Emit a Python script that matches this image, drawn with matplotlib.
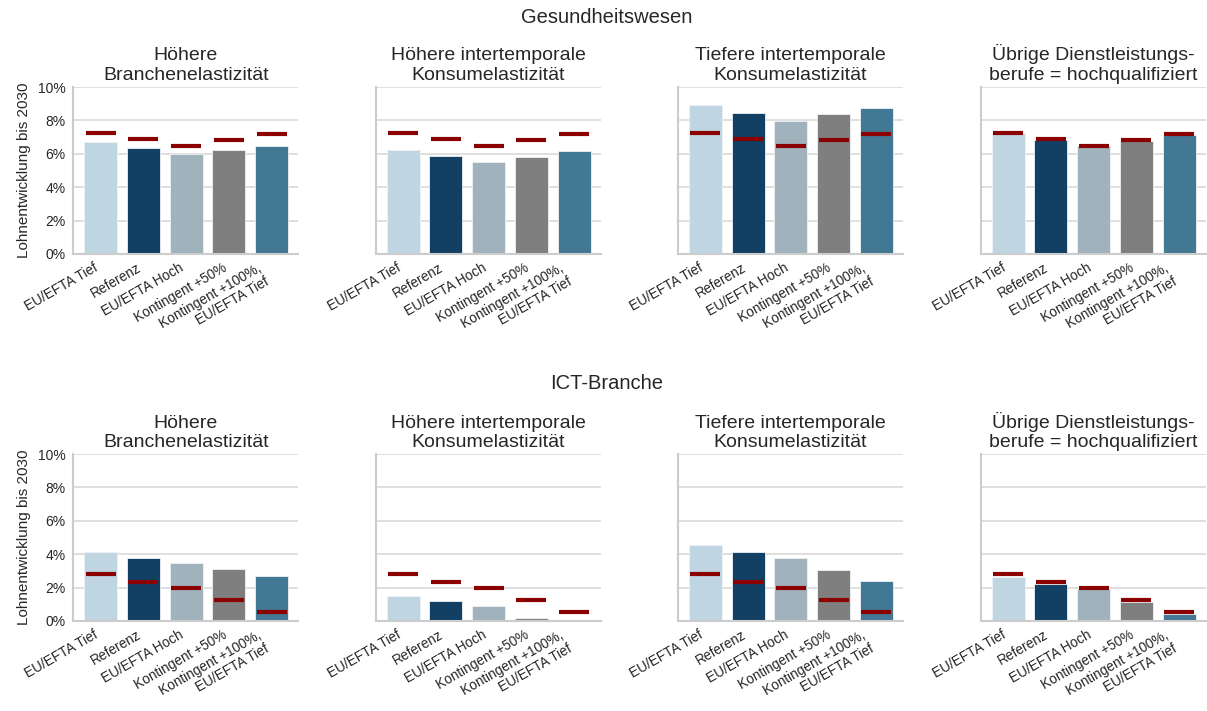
import numpy as np
import matplotlib.pyplot as plt
import seaborn as sns
from matplotlib.ticker import PercentFormatter

sns.set_style("whitegrid")
plt.rcParams["font.family"] = ["Liberation Sans", "DejaVu Sans"]

# Szenarien (x-Achse) und Farben der Balken
szenarien = ["EU/EFTA Tief", "Referenz", "EU/EFTA Hoch", "Kontingent +50%",
             "Kontingent +100%,\nEU/EFTA Tief"]
farben = ["#bfd5e2", "#124064", "#a0b3bd", "#7f7f7f", "#437895"]

sensitivitaeten = ["Höhere\nBranchenelastizität",
                   "Höhere intertemporale\nKonsumelastizität",
                   "Tiefere intertemporale\nKonsumelastizität",
                   "Übrige Dienstleistungs-\nberufe = hochqualifiziert"]

# Lohnentwicklung bis 2030 in %, Gesundheitswesen
gesundheit_basis = [7.26, 6.88, 6.48, 6.80, 7.18]
gesundheit = [
    [6.68, 6.34, 6.00, 6.22, 6.48],
    [6.24, 5.84, 5.48, 5.78, 6.16],
    [8.90, 8.44, 7.98, 8.36, 8.72],
    [7.24, 6.84, 6.44, 6.76, 7.10],
]

# Lohnentwicklung bis 2030 in %, ICT-Branche
ict_basis = [2.83, 2.32, 1.98, 1.26, 0.54]
ict = [
    [4.11, 3.77, 3.47, 3.09, 2.71],
    [1.50, 1.18, 0.90, 0.16, 0.00],
    [4.53, 4.11, 3.75, 3.04, 2.38],
    [2.62, 2.23, 1.90, 1.14, 0.42],
]

fig = plt.figure(figsize=(12.07, 7.11), dpi=100)

lefts = [0.0607, 0.3113, 0.5617, 0.8125]
breite = 0.1864
zeilen = [
    ("Gesundheitswesen", gesundheit, gesundheit_basis, 0.6428, 0.975),
    ("ICT-Branche", ict, ict_basis, 0.1266, 0.461),
]

for branche, werte, basis, unten, ytitel in zeilen:
    fig.text(0.503, ytitel, branche, ha="center", va="center", fontsize=14.5, color="#262626")
    for i, left in enumerate(lefts):
        ax = fig.add_axes([left, unten, breite, 0.2348])
        x = np.arange(len(szenarien))
        ax.bar(x, werte[i], width=0.77, color=farben, edgecolor="#eef2f5",
               linewidth=0.6, zorder=2)
        ax.hlines(basis, x - 0.35, x + 0.35, color="#8b0000", linewidth=3, zorder=3)
        ax.set_xlim(-0.64, 4.62)
        ax.set_ylim(0, 10)
        ax.set_yticks(np.arange(0, 11, 2))
        ax.yaxis.set_major_formatter(PercentFormatter(decimals=0))
        ax.set_xticks(x)
        ax.set_xticklabels(szenarien, rotation=30, ha="right", fontsize=9.8, color="#262626")
        ax.tick_params(axis="y", labelsize=10, labelcolor="#262626", pad=2)
        ax.tick_params(axis="x", pad=1.5)
        ax.grid(axis="x", visible=False)
        ax.grid(axis="y", color="#d9d9d9", linewidth=1.2, zorder=0)
        ax.set_axisbelow(True)
        ax.set_title(sensitivitaeten[i], fontsize=14, color="#262626", pad=5)
        for s in ["top", "right"]:
            ax.spines[s].set_visible(False)
        for s in ["left", "bottom"]:
            ax.spines[s].set_color("#cccccc")
            ax.spines[s].set_linewidth(1.5)
        if i == 0:
            ax.set_ylabel("Lohnentwicklung bis 2030", fontsize=11, color="#262626", labelpad=5)
        else:
            ax.tick_params(axis="y", labelleft=False)

fig.savefig("out.png", dpi=100)
